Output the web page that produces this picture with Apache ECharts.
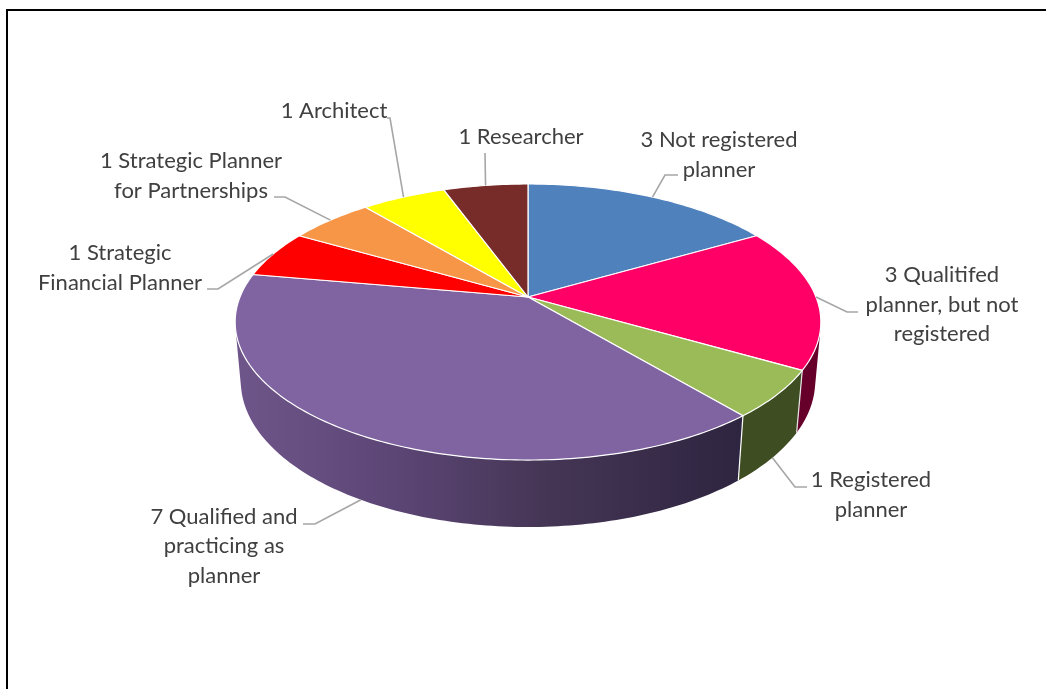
<!DOCTYPE html>
<html>
<head>
<meta charset="utf-8">
<style>html,body{margin:0;padding:0;background:#fff}#chart{width:1046px;height:689px}</style>
<script src="https://cdn.jsdelivr.net/npm/echarts@6/dist/echarts.min.js"></script>
</head>
<body>
<div id="chart"></div>
<script>
// Survey respondents by professional background
const counts = [3, 3, 1, 7, 1, 1, 1, 1];
const labels = [
  '3 Not registered\nplanner',
  '3 Qualitifed\nplanner, but not\nregistered',
  '1 Registered\nplanner',
  '7 Qualified and\npracticing as\nplanner',
  '1 Strategic\nFinancial Planner',
  '1 Strategic Planner\nfor Partnerships',
  '1 Architect',
  '1 Researcher'
];
const topColors = ['#4F81BD', '#FF0066', '#9BBB59', '#8064A2', '#FF0000', '#F79646', '#FFFF00', '#772C2A'];

// Where each label's centre sits, and the leader's elbow and end beside the text
const labelLayout = [
  { x: 719, y: 155, elbow: [665, 175], end: [678, 175] },
  { x: 942, y: 304.5, elbow: [847, 312], end: [858, 312] },
  { x: 871, y: 495, elbow: [795, 487], end: [807, 487] },
  { x: 224, y: 546, elbow: [315, 524], end: [303, 524] },
  { x: 120, y: 268, elbow: [218, 289], end: [207, 289] },
  { x: 191, y: 176, elbow: [285, 197], end: [274, 197] },
  { x: 334, y: 111, elbow: [390, 118], end: [387, 118] },
  { x: 521, y: 137, elbow: [485, 153], end: [485, 153] }
];

// Perspective model of the disc: apex position, radii, foreshortening and wall drop
const view = { cx: 528, cy: 297, r: 288, k: 133.5, p: 0.1812, q: 0.019, drop: 59.2 };

function project(deg, lower) {
  const a = deg * Math.PI / 180;
  const u = Math.sin(a), v = -Math.cos(a);
  const d = 1 - view.p * v + (lower ? view.q : 0);
  return [view.cx + view.r * u / d, view.cy + (view.k * v + (lower ? view.drop : 0)) / d];
}

const total = counts.reduce((s, c) => s + c, 0);
const spans = [];
counts.reduce((start, c) => {
  const end = start + c / total * 360;
  spans.push([start, end]);
  return end;
}, 0);

function arc(a0, a1, lower) {
  const n = Math.max(2, Math.ceil(a1 - a0));
  const pts = [];
  for (let i = 0; i <= n; i++) pts.push(project(a0 + (a1 - a0) * i / n, lower));
  return pts;
}

// The wall faces the viewer where the rim runs clockwise past its downward ruling
function facesViewer(deg) {
  const a = project(deg - 0.05, false), b = project(deg + 0.05, false);
  const t = project(deg, false), l = project(deg, true);
  return (b[0] - a[0]) * (l[1] - t[1]) - (b[1] - a[1]) * (l[0] - t[0]) < 0;
}

function visibleRange(a0, a1) {
  let from = null, to = null;
  for (let d = a0; d <= a1 + 1e-6; d += 0.1) {
    if (facesViewer(d)) {
      if (from === null) from = d;
      to = d;
    }
  }
  return from === null || to - from < 0.1 ? null : [from, to];
}

const G = echarts.graphic.LinearGradient;
const wallFills = [
  '#2F5486',
  '#66002A',
  '#3F4D22',
  new G(243, 0, 738, 0, [
    { offset: 0, color: '#6E5589' },
    { offset: 0.3, color: '#5C4676' },
    { offset: 0.6, color: '#463656' },
    { offset: 1, color: '#2E2540' }
  ], true),
  '#990000', '#94592A', '#999900', '#471A19'
];
const seamColors = ['#ffffff', '#b8b8b8', '#e6e6e6', '#ffffff', '#ffffff', '#ffffff', '#ffffff', '#ffffff'];

function lineShape(p, q) {
  return { x1: p[0], y1: p[1], x2: q[0], y2: q[1] };
}

function renderWall(params, api) {
  const i = params.dataIndex;
  const range = visibleRange(spans[i][0], spans[i][1]);
  if (!range) return { type: 'group', children: [] };
  const top = arc(range[0], range[1], false), low = arc(range[0], range[1], true);
  const children = [
    { type: 'polygon', shape: { points: top.concat(low.reverse()) }, style: { fill: wallFills[i] } }
  ];
  if (range[0] === spans[i][0]) {
    children.push({
      type: 'line',
      shape: lineShape(project(range[0], false), project(range[0], true)),
      style: { stroke: seamColors[i], lineWidth: 1.2 }
    });
  }
  return { type: 'group', children };
}

function renderTop(params, api) {
  const i = params.dataIndex;
  const [a0, a1] = spans[i];
  return {
    type: 'polygon',
    shape: { points: [[view.cx, view.cy]].concat(arc(a0, a1, false)) },
    style: { fill: topColors[i], stroke: '#ffffff', lineWidth: 1.2, lineJoin: 'round' }
  };
}

function renderLabel(params, api) {
  const i = params.dataIndex;
  const [a0, a1] = spans[i];
  const mid = (a0 + a1) / 2;
  const front = -Math.cos(mid * Math.PI / 180) > 0.3;
  const place = labelLayout[i];
  return {
    type: 'group',
    children: [
      {
        type: 'polyline',
        shape: { points: [project(mid, front), place.elbow, place.end] },
        style: { fill: 'none', stroke: '#A6A6A6', lineWidth: 1.6 }
      },
      {
        type: 'text',
        style: {
          text: labels[i], x: place.x, y: place.y,
          align: 'center', verticalAlign: 'middle',
          fontFamily: 'Lato', fontSize: 22, lineHeight: 29.5, fill: '#404040'
        }
      }
    ]
  };
}

const chart = echarts.init(document.getElementById('chart'), null, { renderer: 'canvas' });
chart.setOption({
  animation: false,
  backgroundColor: '#ffffff',
  graphic: [
    { type: 'line', shape: { x1: 6, y1: 10, x2: 1046, y2: 10 }, style: { stroke: '#000', lineWidth: 2 } },
    { type: 'line', shape: { x1: 7, y1: 9, x2: 7, y2: 689 }, style: { stroke: '#000', lineWidth: 2 } }
  ],
  series: [
    { type: 'custom', coordinateSystem: 'none', z: 1, silent: true, renderItem: renderWall, data: counts },
    { type: 'custom', coordinateSystem: 'none', z: 2, silent: true, renderItem: renderTop, data: counts },
    { type: 'custom', coordinateSystem: 'none', z: 3, silent: true, renderItem: renderLabel, data: counts }
  ]
});
</script>
</body>
</html>
